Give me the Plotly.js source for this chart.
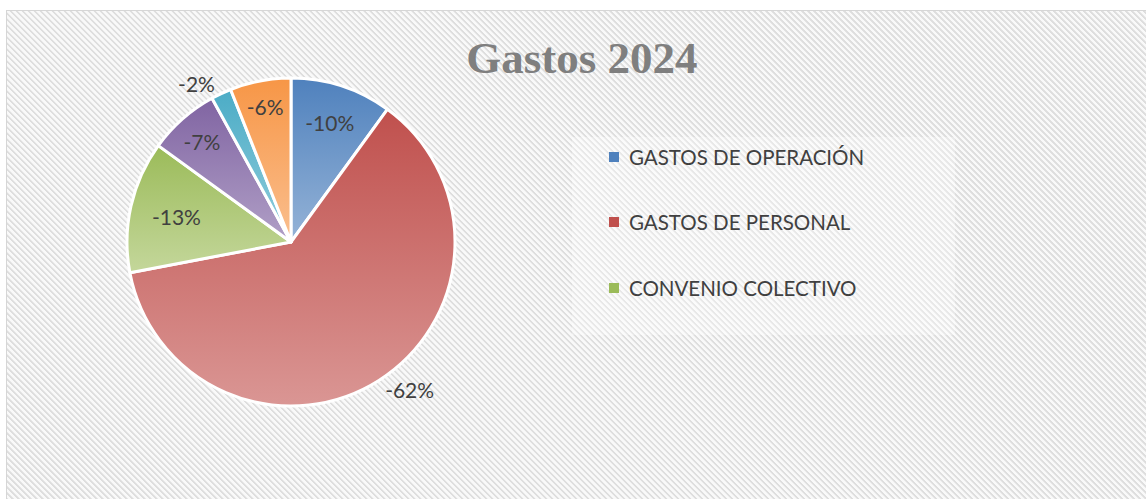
<!DOCTYPE html>
<html>
<head>
<meta charset="utf-8">
<script src="https://cdn.plot.ly/plotly-3.0.1.min.js"></script>
<style>
  html, body { margin: 0; padding: 0; background: #ffffff; width: 1146px; height: 499px; overflow: hidden; }
  #wrap {
    position: absolute; left: 6px; top: 10px; width: 1160px; height: 510px;
    border-top: 1px solid #d6d6d6; border-left: 1px solid #d6d6d6;
    background: repeating-linear-gradient(45deg, #f9f9f9 0px, #f9f9f9 1.6px, #dedede 2.1px, #dedede 3.4px, #f9f9f9 3.9px, #f9f9f9 4.24px);
  }
  #chart { position: absolute; left: 0; top: 0; width: 1139px; height: 488px; }
</style>
</head>
<body>
<div id="wrap"><div id="chart"></div></div>
<script>
// ---- data ----
const categories = ["GASTOS DE OPERACIÓN", "GASTOS DE PERSONAL", "CONVENIO COLECTIVO", "GASTOS FINANCIEROS", "INVERSIONES", "OTROS GASTOS"];
const values = [10, 62, 13, 7, 2, 6];
const legendCount = 3;
const chartTitle = "Gastos 2024";

// ---- styles ----
const baseColors = ["#4F81BD", "#C0504D", "#9BBB59", "#8064A2", "#4BACC6", "#F79646"];
const lightColors = ["#95B3D7", "#DA9694", "#C4D79B", "#B1A0C7", "#92CDDC", "#FABF8F"];
const textPos = ["inside", "outside", "inside", "inside", "outside", "inside"];
const labelFont = { family: "Lato, 'Open Sans', sans-serif", size: 21, color: "#404040" };

const OX = 7, OY = 11, W = 1139, H = 488;
const px2x = p => (p - OX) / W;
const px2y = p => 1 - (p - OY) / H;

const cx = 291, cy = 242, r = 164;

const trace = {
  type: "pie",
  labels: categories,
  values: values,
  sort: false,
  direction: "clockwise",
  rotation: 0,
  marker: { colors: baseColors, line: { color: "#ffffff", width: 3 } },
  texttemplate: "-%{percent:.0%}",
  textposition: textPos,
  insidetextorientation: "horizontal",
  textfont: labelFont,
  outsidetextfont: labelFont,
  insidetextfont: labelFont,
  domain: { x: [px2x(cx - r), px2x(cx + r)], y: [px2y(cy + r), px2y(cy - r)] },
  hoverinfo: "label+percent",
  showlegend: false
};

const shapes = [{
  type: "rect", xref: "paper", yref: "paper",
  x0: px2x(572), x1: px2x(955), y0: px2y(335), y1: px2y(137),
  fillcolor: "rgba(255,255,255,0.3)", line: { width: 0 }, layer: "below"
}];
const annotations = [];
const rowY = [157, 222, 288];
for (let i = 0; i < legendCount; i++) {
  shapes.push({
    type: "rect", xref: "paper", yref: "paper",
    x0: px2x(609), x1: px2x(619), y0: px2y(rowY[i] + 5), y1: px2y(rowY[i] - 5),
    fillcolor: baseColors[i], line: { width: 0 }
  });
  annotations.push({
    xref: "paper", yref: "paper", x: px2x(627), y: px2y(rowY[i]),
    xanchor: "left", yanchor: "middle", showarrow: false,
    text: categories[i],
    font: { family: "Lato, 'Open Sans', sans-serif", size: 20.5, color: "#404040" }
  });
}

const layout = {
  width: W, height: H,
  margin: { l: 0, r: 0, t: 0, b: 0 },
  paper_bgcolor: "rgba(0,0,0,0)",
  plot_bgcolor: "rgba(0,0,0,0)",
  showlegend: false,
  title: {
    text: "<b>" + chartTitle + "</b>",
    xref: "paper", yref: "paper",
    x: px2x(582), y: px2y(57), xanchor: "center", yanchor: "middle",
    font: { family: "'Liberation Serif', 'DejaVu Serif', serif", size: 45, color: "#7F7F7F" }
  },
  shapes: shapes,
  annotations: annotations
};

Plotly.newPlot("chart", [trace], layout, { staticPlot: true, responsive: false }).then(gd => {
  const svg = gd.querySelector(".main-svg");
  let defs = svg.querySelector("defs");
  const NS = "http://www.w3.org/2000/svg";
  baseColors.forEach((c, i) => {
    const g = document.createElementNS(NS, "linearGradient");
    g.setAttribute("id", "sliceGrad" + i);
    g.setAttribute("x1", "0"); g.setAttribute("y1", "0");
    g.setAttribute("x2", "0"); g.setAttribute("y2", "1");
    const s1 = document.createElementNS(NS, "stop");
    s1.setAttribute("offset", "0"); s1.setAttribute("stop-color", c);
    const s2 = document.createElementNS(NS, "stop");
    s2.setAttribute("offset", "1"); s2.setAttribute("stop-color", lightColors[i]);
    g.appendChild(s1); g.appendChild(s2);
    defs.appendChild(g);
  });
  gd.querySelectorAll(".slice path.surface").forEach((p, i) => {
    p.style.fill = "url(#sliceGrad" + i + ")";
  });
});
</script>
</body>
</html>
